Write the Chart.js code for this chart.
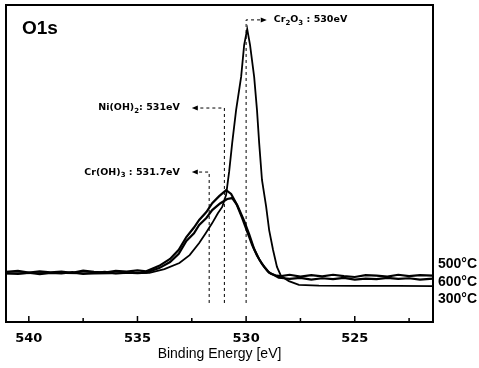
<!DOCTYPE html>
<html>
<head>
<meta charset="utf-8">
<script src="https://cdn.jsdelivr.net/npm/chart.js@4"></script>
<style>
  html, body { margin: 0; padding: 0; background: #fff; }
  #wrap { width: 479px; height: 368px; }
</style>
</head>
<body>
<div id="wrap"><canvas id="xpsChart"></canvas></div>
<script>
// O1s spectra, binding energy (eV) vs intensity (a.u.)

const energy300 = [541.1, 539, 537, 535.5, 534.45, 533.76, 533.07, 532.6, 532.16, 531.86, 531.56, 531.3, 531.1, 530.92, 530.78, 530.64, 530.46, 530.23, 530.09, 529.95, 529.82, 529.63, 529.5, 529.4, 529.27, 529.08, 528.94, 528.76, 528.58, 528.39, 528.03, 527.57, 526.65, 525, 523, 521.4];
const int300 = [15.3, 15.5, 15.3, 15.4, 15.5, 16.7, 18.6, 21.1, 24.9, 28.0, 31.2, 34.3, 36.3, 40.1, 47.5, 56.5, 66.9, 77.3, 87.4, 92.4, 87.4, 77.3, 66.9, 56.5, 44.8, 36.5, 29.0, 22.7, 17.4, 14.5, 12.9, 11.7, 11.5, 11.4, 11.4, 11.3];

const energy500 = [541.1, 540.5, 540, 539.5, 539, 538.5, 538, 537.5, 537, 536.5, 536, 535.5, 535, 534.6, 534.0, 533.5, 533.1, 532.75, 532.4, 532.16, 531.83, 531.56, 531.24, 530.92, 530.69, 530.46, 530.18, 529.95, 529.72, 529.5, 529.27, 529.0, 528.85, 528.6, 528.39, 528.0, 527.5, 527, 526.5, 526, 525.5, 525, 524.5, 524, 523.5, 523, 522.5, 522, 521.4];
const int500 = [15.8, 16.1, 15.6, 16.0, 15.7, 15.9, 15.5, 16.2, 15.8, 15.6, 16.1, 15.9, 16.3, 16.0, 17.7, 19.9, 22.8, 26.8, 29.8, 32.2, 34.7, 37.5, 39.7, 41.6, 40.4, 37.5, 32.8, 28.5, 24.3, 21.0, 18.3, 16.0, 15.2, 14.6, 14.5, 14.9, 14.3, 14.8, 14.4, 14.9, 14.5, 14.2, 14.8, 14.6, 14.3, 14.9, 14.5, 14.8, 14.6];

const energy600 = [541.1, 540.5, 540, 539.5, 539, 538.5, 538, 537.5, 537, 536.5, 536, 535.5, 535, 534.6, 534.0, 533.5, 533.1, 532.75, 532.4, 532.16, 531.83, 531.56, 531.2, 530.87, 530.64, 530.41, 530.09, 529.85, 529.63, 529.4, 529.17, 528.95, 528.72, 528.5, 528.26, 528.0, 527.5, 527, 526.5, 526, 525.5, 525, 524.5, 524, 523.5, 523, 522.5, 522, 521.4];
const int600 = [15.4, 15.2, 15.6, 15.1, 15.5, 15.3, 15.7, 15.2, 15.5, 15.8, 15.3, 15.6, 15.4, 15.6, 17.0, 18.9, 21.5, 25.6, 28.0, 30.6, 32.8, 35.3, 37.4, 38.8, 39.1, 36.9, 31.9, 27.5, 23.0, 19.8, 17.4, 15.6, 14.8, 14.0, 13.8, 13.6, 13.9, 13.4, 13.8, 13.5, 13.9, 13.4, 13.7, 13.5, 13.9, 13.6, 13.8, 13.4, 13.7];

const seriesNames = ['500°C', '600°C', '300°C'];
const seriesLevels = [18.3, 12.6, 7.3];   // where the right-hand names sit

const tickValues = [540, 535, 530, 525];
const minorTicks = [537.5, 532.5, 527.5, 522.5];

// reference lines
const markEnergy = [530, 531, 531.7];
const markLevel = [95.3, 67.5, 47.3];
const markTip = [529.05, 532.5, 532.5];
const markFloor = 6.0;
const markLabels = ['Cr_2O_3 : 530eV', 'Ni(OH)_2: 531eV', 'Cr(OH)_3 : 531.7eV'];

function toPoints(xs, ys) { return xs.map((v, i) => ({ x: v, y: ys[i] })); }

// draws text where "_d" means a subscript digit
function drawRich(ctx, str, x, y, align) {
    const parts = str.split(/(_\d)/).filter(p => p !== '');
    const big = 'bold 9.5px "DejaVu Sans"', small = 'bold 7px "DejaVu Sans"';
    let w = 0;
    parts.forEach(p => { ctx.font = p[0] === '_' ? small : big; w += ctx.measureText(p[0] === '_' ? p.slice(1) : p).width; });
    let cx = align === 'right' ? x - w : x;
    ctx.textBaseline = 'middle'; ctx.textAlign = 'left';
    parts.forEach(p => {
        const sub = p[0] === '_';
        const t = sub ? p.slice(1) : p;
        ctx.font = sub ? small : big;
        ctx.fillText(t, cx, sub ? y + 3 : y);
        cx += ctx.measureText(t).width;
    });
}

const decor = {
    id: 'decor',
    afterDatasetsDraw(chart) {
        const { ctx, chartArea: a, scales: { x, y } } = chart;
        ctx.save();
        ctx.fillStyle = '#000'; ctx.strokeStyle = '#000';

        // frame + inward ticks
        ctx.lineWidth = 2;
        ctx.strokeRect(a.left, a.top, a.right - a.left, a.bottom - a.top);
        ctx.lineWidth = 1.5;
        ctx.beginPath();
        tickValues.forEach(v => { const px = x.getPixelForValue(v); ctx.moveTo(px, a.bottom); ctx.lineTo(px, a.bottom - 6); });
        minorTicks.forEach(v => { const px = x.getPixelForValue(v); ctx.moveTo(px, a.bottom); ctx.lineTo(px, a.bottom - 4); });
        ctx.stroke();

        // dashed reference lines with arrows
        markEnergy.forEach((e, i) => {
            const px = x.getPixelForValue(e);
            const top = y.getPixelForValue(markLevel[i]);
            const tip = x.getPixelForValue(markTip[i]);
            const dir = tip > px ? 1 : -1;
            ctx.setLineDash([3, 3]); ctx.lineWidth = 1;
            ctx.beginPath();
            ctx.moveTo(px, y.getPixelForValue(markFloor));
            ctx.lineTo(px, top);
            ctx.lineTo(tip - dir * 4, top);
            ctx.stroke();
            ctx.setLineDash([]);
            ctx.beginPath();
            ctx.moveTo(tip, top); ctx.lineTo(tip - dir * 6, top - 2.5); ctx.lineTo(tip - dir * 6, top + 2.5);
            ctx.closePath(); ctx.fill();
            if (dir > 0) drawRich(ctx, markLabels[i], tip + 7, top, 'left');
            else drawRich(ctx, markLabels[i], tip - 12, top, 'right');
        });

        // panel title
        ctx.font = 'bold 19px "Liberation Sans"';
        ctx.textAlign = 'left'; ctx.textBaseline = 'middle';
        ctx.fillText('O1s', a.left + 16, a.top + 24);

        // series names on the right
        ctx.font = 'bold 14px "Liberation Sans"';
        seriesNames.forEach((n, i) => ctx.fillText(n, a.right + 5, y.getPixelForValue(seriesLevels[i])));
        ctx.restore();
    }
};

new Chart(document.getElementById('xpsChart'), {
    type: 'line',
    data: {
        datasets: [
            { label: '500°C', data: toPoints(energy500, int500), borderWidth: 2.2 },
            { label: '600°C', data: toPoints(energy600, int600), borderWidth: 2.2 },
            { label: '300°C', data: toPoints(energy300, int300), borderWidth: 1.8 }
        ]
    },
    options: {
        responsive: true,
        maintainAspectRatio: false,
        animation: false,
        borderColor: '#000',
        elements: { point: { radius: 0 }, line: { borderColor: '#000', tension: 0, fill: false } },
        layout: { padding: { left: 6, right: 46, top: 5, bottom: 0 } },
        plugins: { legend: { display: false }, tooltip: { enabled: false } },
        scales: {
            x: {
                type: 'linear',
                reverse: true,
                min: 521.4,
                max: 541.05,
                afterBuildTicks: s => { s.ticks = tickValues.map(v => ({ value: v })); },
                afterFit: s => { s.height = 46; },
                grid: { display: false, drawTicks: false },
                border: { display: false },
                ticks: { color: '#000', padding: 9, font: { family: 'DejaVu Sans', weight: 'bold', size: 13 } },
                title: { display: true, text: 'Binding Energy [eV]', color: '#000', padding: { top: 0, bottom: 5 }, font: { family: 'Liberation Sans', size: 14 } }
            },
            y: { display: false, min: 0, max: 100 }
        }
    },
    plugins: [decor]
});
</script>
</body>
</html>
